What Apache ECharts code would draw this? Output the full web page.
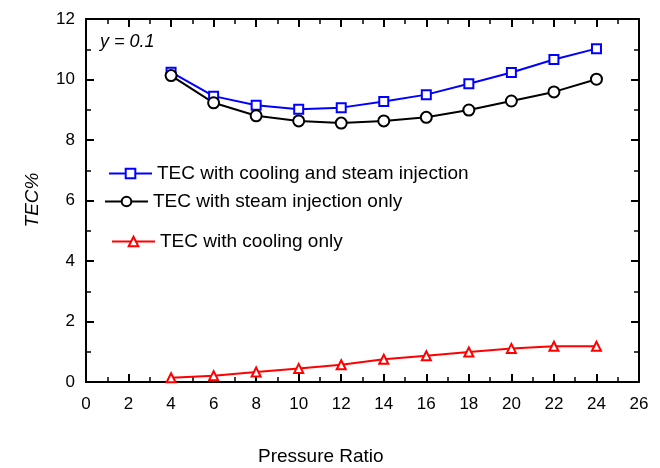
<!DOCTYPE html>
<html>
<head>
<meta charset="utf-8">
<script src="https://cdn.jsdelivr.net/npm/echarts@6/dist/echarts.min.js"></script>
<style>html,body{margin:0;padding:0;background:#fff}#c{width:660px;height:468px}</style>
</head>
<body>
<div id="c"></div>
<script>
const pressureRatio = [4, 6, 8, 10, 12, 14, 16, 18, 20, 22, 24];
const coolingAndSteam = [10.24, 9.45, 9.15, 9.02, 9.07, 9.27, 9.50, 9.86, 10.23, 10.66, 11.02];
const steamOnly = [10.13, 9.23, 8.80, 8.63, 8.56, 8.63, 8.75, 8.99, 9.29, 9.59, 10.01];
const coolingOnly = [0.14, 0.21, 0.33, 0.45, 0.57, 0.75, 0.87, 0.99, 1.11, 1.18, 1.18];
const seriesNames = ['TEC with cooling and steam injection', 'TEC with steam injection only', 'TEC with cooling only'];

const pairs = (ys) => pressureRatio.map((x, i) => [x, ys[i]]);
const font = 'Liberation Sans, Arial, sans-serif';

const axisCommon = {
  axisLine: { onZero: false, lineStyle: { color: '#000', width: 2 } },
  axisTick: { inside: true, length: 8, lineStyle: { color: '#000', width: 2 } },
  minorTick: { show: true, splitNumber: 2, length: 5, lineStyle: { color: '#000', width: 1.5 } },
  splitLine: { show: false }
};

const chart = echarts.init(document.getElementById('c'));
const legendBase = {
  orient: 'vertical', padding: 0, itemWidth: 43, itemHeight: 12,
  textStyle: { fontFamily: font, fontSize: 19, color: '#000' }
};
chart.setOption({
  animation: false,
  grid: { left: 86, right: 21, top: 19, bottom: 86 },
  xAxis: [
    Object.assign({ type: 'value', min: 0, max: 26, interval: 2, position: 'bottom',
      axisLabel: { fontFamily: font, fontSize: 17, color: '#000', margin: 14 } }, axisCommon),
    Object.assign({ type: 'value', min: 0, max: 26, interval: 2, position: 'top',
      axisLabel: { show: false } }, axisCommon)
  ],
  yAxis: [
    Object.assign({ type: 'value', min: 0, max: 12, interval: 2, position: 'left',
      axisLabel: { fontFamily: font, fontSize: 17, color: '#000', margin: 11 } }, axisCommon),
    Object.assign({ type: 'value', min: 0, max: 12, interval: 2, position: 'right',
      axisLabel: { show: false } }, axisCommon)
  ],
  legend: [
    Object.assign({ left: 108, top: 164, data: [seriesNames[0]] }, legendBase),
    Object.assign({ left: 104, top: 192, data: [seriesNames[1]] }, legendBase),
    Object.assign({ left: 111, top: 232, data: [seriesNames[2]] }, legendBase)
  ],
  graphic: [
    { type: 'text', left: 258, top: 447, style: { text: 'Pressure Ratio', fontFamily: font, fontSize: 19, fill: '#000' } },
    { type: 'text', x: 33, y: 200, rotation: Math.PI / 2, style: { text: 'TEC%', fontFamily: font, fontSize: 19, fontStyle: 'italic', fill: '#000', align: 'center', verticalAlign: 'middle' } },
    { type: 'text', left: 100, top: 33, style: { text: 'y = 0.1', fontFamily: font, fontSize: 18, fontStyle: 'italic', fill: '#000' } }
  ],
  series: [
    { name: seriesNames[0], type: 'line', data: pairs(coolingAndSteam), symbol: 'rect', symbolSize: 9,
      lineStyle: { color: '#0000ff', width: 2 }, itemStyle: { color: '#fff', borderColor: '#0000ff', borderWidth: 2 } },
    { name: seriesNames[1], type: 'line', data: pairs(steamOnly), symbol: 'circle', symbolSize: 11,
      lineStyle: { color: '#000', width: 2 }, itemStyle: { color: '#fff', borderColor: '#000', borderWidth: 2 } },
    { name: seriesNames[2], type: 'line', data: pairs(coolingOnly), symbol: 'triangle', symbolSize: 9,
      lineStyle: { color: '#ff0000', width: 2 }, itemStyle: { color: '#fff', borderColor: '#ff0000', borderWidth: 2 } }
  ]
});
</script>
</body>
</html>
